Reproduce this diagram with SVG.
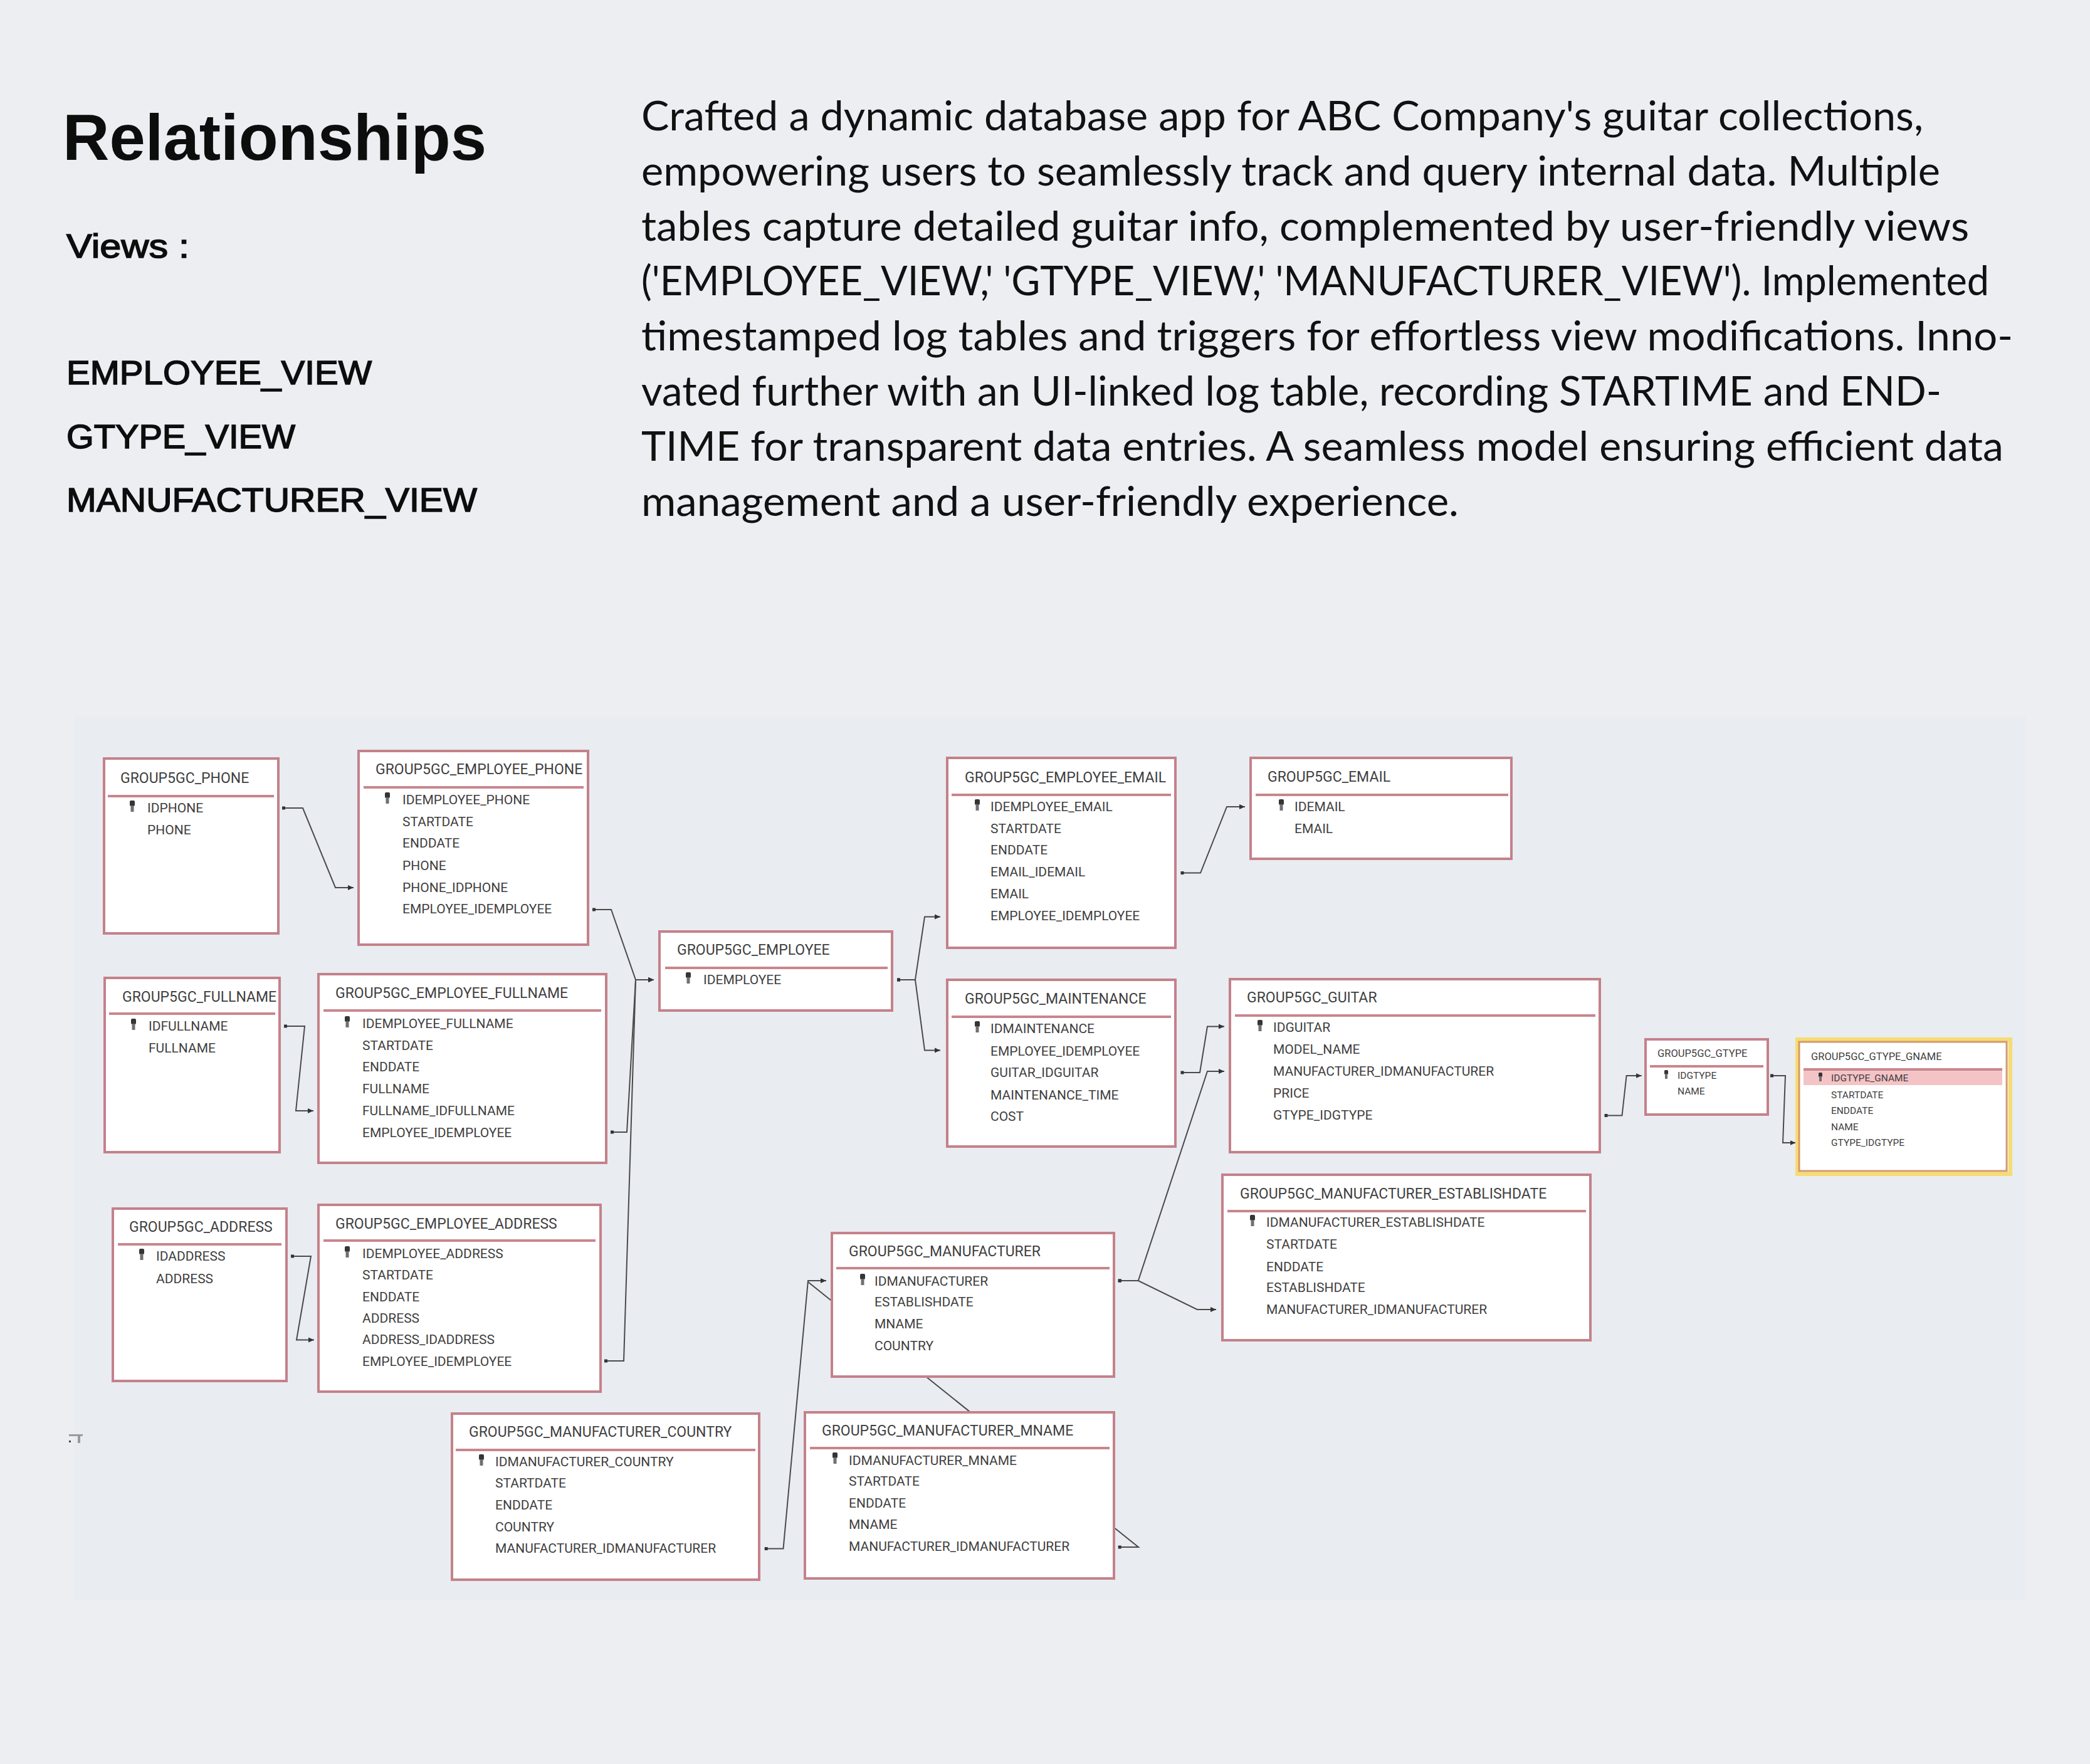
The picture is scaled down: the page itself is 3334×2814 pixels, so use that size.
<svg xmlns="http://www.w3.org/2000/svg" width="3334" height="2814" viewBox="0 0 3334 2814">
<defs>
<style>
.hd{font-family:"Liberation Sans",Arial,sans-serif;fill:#0d0d0d}
.vw{font-family:"Liberation Sans",Arial,sans-serif;font-size:54px;fill:#0d0d0d;stroke:#0d0d0d;stroke-width:1.6}
.para{font-family:Lato,"Open Sans",sans-serif;font-size:66px;fill:#111}
.box{fill:#fff;stroke:#c4818a;stroke-width:4}
.sep{stroke:#c8868d;stroke-width:4}
.tt{font-family:Roboto,"Liberation Sans",sans-serif;font-size:23px;fill:#3f3f3f}
.fd{font-family:Roboto,"Liberation Sans",sans-serif;font-size:21px;fill:#3f3f3f}
.tts{font-family:Roboto,"Liberation Sans",sans-serif;font-size:16.5px;fill:#3f3f3f}
.fds{font-family:Roboto,"Liberation Sans",sans-serif;font-size:15.5px;fill:#3f3f3f}
.conn{fill:none;stroke:#4a4a4a;stroke-width:2;stroke-linejoin:miter}
</style>
<marker id="arr" markerUnits="userSpaceOnUse" markerWidth="10" markerHeight="10" refX="9" refY="5" orient="auto">
<path d="M0,1 L9,5 L0,9 z" fill="#333"/>
</marker>
<marker id="dot" markerUnits="userSpaceOnUse" markerWidth="8" markerHeight="8" refX="4" refY="4" orient="auto">
<rect x="1" y="1.5" width="5" height="5" fill="#333"/>
</marker>
<g id="key">
<rect x="0" y="0" width="8" height="9" rx="2" fill="#353535"/>
<rect x="1.5" y="8" width="5" height="10" fill="#707070"/>
</g>
<g id="keys">
<rect x="0" y="0" width="6" height="7" rx="1.5" fill="#353535"/>
<rect x="1" y="6" width="4" height="8" fill="#707070"/>
</g>
</defs>

<rect x="0" y="0" width="3334" height="2814" fill="#eceef2"/>
<rect x="118" y="1143" width="3114" height="1410" fill="#e9ecf1"/>

<g id="header">
<text class="hd" x="100" y="255" font-size="103" font-weight="bold" textLength="676" lengthAdjust="spacingAndGlyphs">Relationships</text>
<text class="vw" x="106" y="411" textLength="196" lengthAdjust="spacingAndGlyphs">Views :</text>
<text class="vw" x="106" y="613" textLength="487" lengthAdjust="spacingAndGlyphs">EMPLOYEE_VIEW</text>
<text class="vw" x="106" y="715" textLength="365" lengthAdjust="spacingAndGlyphs">GTYPE_VIEW</text>
<text class="vw" x="106" y="816" textLength="655" lengthAdjust="spacingAndGlyphs">MANUFACTURER_VIEW</text>
</g>

<g id="description">
<text class="para" x="1023" y="208" textLength="2045" lengthAdjust="spacingAndGlyphs">Crafted a dynamic database app for ABC Company's guitar collections,</text>
<text class="para" x="1023" y="296" textLength="2072" lengthAdjust="spacingAndGlyphs">empowering users to seamlessly track and query internal data. Multiple</text>
<text class="para" x="1023" y="384" textLength="2118" lengthAdjust="spacingAndGlyphs">tables capture detailed guitar info, complemented by user-friendly views</text>
<text class="para" x="1023" y="471" textLength="2150" lengthAdjust="spacingAndGlyphs">('EMPLOYEE_VIEW,' 'GTYPE_VIEW,' 'MANUFACTURER_VIEW'). Implemented</text>
<text class="para" x="1023" y="559" textLength="2188" lengthAdjust="spacingAndGlyphs">timestamped log tables and triggers for effortless view modifications. Inno-</text>
<text class="para" x="1023" y="647" textLength="2074" lengthAdjust="spacingAndGlyphs">vated further with an UI-linked log table, recording STARTIME and END-</text>
<text class="para" x="1023" y="735" textLength="2173" lengthAdjust="spacingAndGlyphs">TIME for transparent data entries. A seamless model ensuring efficient data</text>
<text class="para" x="1023" y="823" textLength="1304" lengthAdjust="spacingAndGlyphs">management and a user-friendly experience.</text>
</g>

<g id="mark">
<rect x="110" y="2288" width="22" height="3" fill="#9a9a9a"/>
<rect x="124" y="2290" width="4" height="12" fill="#9a9a9a"/>
<rect x="110" y="2298" width="3" height="3" fill="#444"/>
</g>

<g id="connectors">
<polyline class="conn" marker-start="url(#dot)" marker-end="url(#arr)" points="453,1289 483,1289 535,1416 564,1416"/>
<polyline class="conn" marker-start="url(#dot)" marker-end="url(#arr)" points="456,1637 486,1637 472,1772 500,1772"/>
<polyline class="conn" marker-start="url(#dot)" marker-end="url(#arr)" points="467,2004 496,2004 473,2137.5 501,2137.5"/>
<polyline class="conn" marker-start="url(#dot)" marker-end="url(#arr)" points="948,1451 975,1451 1014,1563 1043,1563"/>
<polyline class="conn" marker-start="url(#dot)" marker-end="url(#arr)" points="977,1806 1000,1806 1014,1563 1043,1563"/>
<polyline class="conn" marker-start="url(#dot)" marker-end="url(#arr)" points="967,2171 995,2171 1014,1563 1043,1563"/>
<polyline class="conn" marker-start="url(#dot)" marker-end="url(#arr)" points="1434,1563 1460,1563 1475,1462.6 1500,1462.6"/>
<polyline class="conn" marker-start="url(#dot)" marker-end="url(#arr)" points="1434,1563 1460,1563 1475,1675.5 1500,1675.5"/>
<polyline class="conn" marker-start="url(#dot)" marker-end="url(#arr)" points="1886.5,1392.5 1915,1392.5 1957,1287 1986,1287"/>
<polyline class="conn" marker-start="url(#dot)" marker-end="url(#arr)" points="1886.5,1711 1914,1711 1926,1637.6 1953,1637.6"/>
<polyline class="conn" marker-start="url(#dot)" marker-end="url(#arr)" points="1786.7,2043 1815.8,2043 1926,1709 1953,1709"/>
<polyline class="conn" marker-start="url(#dot)" marker-end="url(#arr)" points="1786.7,2043 1815.8,2043 1909.7,2089 1940,2089"/>
<polyline class="conn" marker-start="url(#dot)" marker-end="url(#arr)" points="1222.7,2470.5 1249.5,2470.5 1289,2043 1318,2043"/>
<polyline class="conn" marker-start="url(#dot)" points="1786.7,2468 1816,2468 1289,2045"/>
<polyline class="conn" marker-start="url(#dot)" marker-end="url(#arr)" points="2562.5,1779.5 2587.5,1779.5 2594.6,1716 2618.7,1716"/>
<polyline class="conn" marker-start="url(#dot)" marker-end="url(#arr)" points="2827,1716 2848,1716 2844,1823 2864.5,1823"/>
</g>

<g id="t-phone">
<rect class="box" x="166" y="1210" width="278" height="279"/>
<text class="tt" x="192" y="1249">GROUP5GC_PHONE</text>
<line class="sep" x1="172" y1="1270" x2="437" y2="1270"/>
<use href="#key" x="207" y="1277"/>
<text class="fd" x="235" y="1296">IDPHONE</text>
<text class="fd" x="235" y="1331">PHONE</text>
</g>

<g id="t-employee-phone">
<rect class="box" x="572" y="1198" width="366" height="309"/>
<text class="tt" x="599" y="1235">GROUP5GC_EMPLOYEE_PHONE</text>
<line class="sep" x1="580" y1="1256" x2="931" y2="1256"/>
<use href="#key" x="614" y="1264"/>
<text class="fd" x="642" y="1283">IDEMPLOYEE_PHONE</text>
<text class="fd" x="642" y="1318">STARTDATE</text>
<text class="fd" x="642" y="1352">ENDDATE</text>
<text class="fd" x="642" y="1388">PHONE</text>
<text class="fd" x="642" y="1423">PHONE_IDPHONE</text>
<text class="fd" x="642" y="1457">EMPLOYEE_IDEMPLOYEE</text>
</g>

<g id="t-fullname">
<rect class="box" x="167" y="1560" width="279" height="278"/>
<text class="tt" x="195" y="1598">GROUP5GC_FULLNAME</text>
<line class="sep" x1="174" y1="1617" x2="439" y2="1617"/>
<use href="#key" x="209" y="1625"/>
<text class="fd" x="237" y="1644">IDFULLNAME</text>
<text class="fd" x="237" y="1679">FULLNAME</text>
</g>

<g id="t-employee-fullname">
<rect class="box" x="508" y="1554" width="459" height="301"/>
<text class="tt" x="535" y="1592">GROUP5GC_EMPLOYEE_FULLNAME</text>
<line class="sep" x1="516" y1="1612" x2="959" y2="1612"/>
<use href="#key" x="550" y="1621"/>
<text class="fd" x="578" y="1640">IDEMPLOYEE_FULLNAME</text>
<text class="fd" x="578" y="1675">STARTDATE</text>
<text class="fd" x="578" y="1709">ENDDATE</text>
<text class="fd" x="578" y="1744">FULLNAME</text>
<text class="fd" x="578" y="1779">FULLNAME_IDFULLNAME</text>
<text class="fd" x="578" y="1814">EMPLOYEE_IDEMPLOYEE</text>
</g>

<g id="t-address">
<rect class="box" x="180" y="1928" width="277" height="275"/>
<text class="tt" x="206" y="1965">GROUP5GC_ADDRESS</text>
<line class="sep" x1="188" y1="1985" x2="449" y2="1985"/>
<use href="#key" x="222" y="1992"/>
<text class="fd" x="249" y="2011">IDADDRESS</text>
<text class="fd" x="249" y="2047">ADDRESS</text>
</g>

<g id="t-employee-address">
<rect class="box" x="508" y="1922" width="450" height="298"/>
<text class="tt" x="535" y="1960">GROUP5GC_EMPLOYEE_ADDRESS</text>
<line class="sep" x1="516" y1="1979" x2="950" y2="1979"/>
<use href="#key" x="550" y="1988"/>
<text class="fd" x="578" y="2007">IDEMPLOYEE_ADDRESS</text>
<text class="fd" x="578" y="2041">STARTDATE</text>
<text class="fd" x="578" y="2076">ENDDATE</text>
<text class="fd" x="578" y="2110">ADDRESS</text>
<text class="fd" x="578" y="2144">ADDRESS_IDADDRESS</text>
<text class="fd" x="578" y="2179">EMPLOYEE_IDEMPLOYEE</text>
</g>

<g id="t-employee">
<rect class="box" x="1052" y="1486" width="371" height="126"/>
<text class="tt" x="1080" y="1523">GROUP5GC_EMPLOYEE</text>
<line class="sep" x1="1061" y1="1544" x2="1416" y2="1544"/>
<use href="#key" x="1094" y="1551"/>
<text class="fd" x="1122" y="1570">IDEMPLOYEE</text>
</g>

<g id="t-employee-email">
<rect class="box" x="1511" y="1209" width="364" height="303"/>
<text class="tt" x="1539" y="1248">GROUP5GC_EMPLOYEE_EMAIL</text>
<line class="sep" x1="1518" y1="1268" x2="1868" y2="1268"/>
<use href="#key" x="1555" y="1275"/>
<text class="fd" x="1580" y="1294">IDEMPLOYEE_EMAIL</text>
<text class="fd" x="1580" y="1329">STARTDATE</text>
<text class="fd" x="1580" y="1363">ENDDATE</text>
<text class="fd" x="1580" y="1398">EMAIL_IDEMAIL</text>
<text class="fd" x="1580" y="1433">EMAIL</text>
<text class="fd" x="1580" y="1468">EMPLOYEE_IDEMPLOYEE</text>
</g>

<g id="t-email">
<rect class="box" x="1995" y="1209" width="416" height="161"/>
<text class="tt" x="2022" y="1247">GROUP5GC_EMAIL</text>
<line class="sep" x1="2003" y1="1268" x2="2406" y2="1268"/>
<use href="#key" x="2040" y="1275"/>
<text class="fd" x="2065" y="1294">IDEMAIL</text>
<text class="fd" x="2065" y="1329">EMAIL</text>
</g>

<g id="t-maintenance">
<rect class="box" x="1511" y="1563" width="364" height="266"/>
<text class="tt" x="1539" y="1601">GROUP5GC_MAINTENANCE</text>
<line class="sep" x1="1518" y1="1622" x2="1868" y2="1622"/>
<use href="#key" x="1555" y="1629"/>
<text class="fd" x="1580" y="1648">IDMAINTENANCE</text>
<text class="fd" x="1580" y="1684">EMPLOYEE_IDEMPLOYEE</text>
<text class="fd" x="1580" y="1718">GUITAR_IDGUITAR</text>
<text class="fd" x="1580" y="1754">MAINTENANCE_TIME</text>
<text class="fd" x="1580" y="1788">COST</text>
</g>

<g id="t-guitar">
<rect class="box" x="1962" y="1562" width="590" height="276"/>
<text class="tt" x="1989" y="1599">GROUP5GC_GUITAR</text>
<line class="sep" x1="1970" y1="1620" x2="2545" y2="1620"/>
<use href="#key" x="2006" y="1627"/>
<text class="fd" x="2031" y="1646">IDGUITAR</text>
<text class="fd" x="2031" y="1681">MODEL_NAME</text>
<text class="fd" x="2031" y="1716">MANUFACTURER_IDMANUFACTURER</text>
<text class="fd" x="2031" y="1751">PRICE</text>
<text class="fd" x="2031" y="1786">GTYPE_IDGTYPE</text>
</g>

<g id="t-gtype">
<rect class="box" x="2625" y="1658" width="195" height="120"/>
<text class="tts" x="2644" y="1686">GROUP5GC_GTYPE</text>
<line class="sep" x1="2632" y1="1701" x2="2813" y2="1701" stroke="#d3a3a8"/>
<use href="#keys" x="2655" y="1707"/>
<text class="fds" x="2676" y="1721">IDGTYPE</text>
<text class="fds" x="2676" y="1746">NAME</text>
</g>

<g id="t-gtype-gname">
<rect x="2867" y="1658" width="340" height="215" fill="none" stroke="#f6dc73" stroke-width="6"/>
<rect x="2870" y="1662" width="331" height="206" fill="#fff" stroke="#d59a6a" stroke-width="3"/>
<text class="tts" x="2889" y="1691">GROUP5GC_GTYPE_GNAME</text>
<rect x="2877" y="1704" width="317" height="27" fill="#f4c3c6"/>
<line class="sep" x1="2877" y1="1706" x2="3194" y2="1706"/>
<use href="#keys" x="2901" y="1711"/>
<text class="fds" x="2921" y="1725">IDGTYPE_GNAME</text>
<text class="fds" x="2921" y="1752">STARTDATE</text>
<text class="fds" x="2921" y="1777">ENDDATE</text>
<text class="fds" x="2921" y="1803">NAME</text>
<text class="fds" x="2921" y="1828">GTYPE_IDGTYPE</text>
</g>

<g id="t-manufacturer-establishdate">
<rect class="box" x="1950" y="1874" width="587" height="264"/>
<text class="tt" x="1978" y="1912">GROUP5GC_MANUFACTURER_ESTABLISHDATE</text>
<line class="sep" x1="1958" y1="1932" x2="2530" y2="1932"/>
<use href="#key" x="1994" y="1938"/>
<text class="fd" x="2020" y="1957">IDMANUFACTURER_ESTABLISHDATE</text>
<text class="fd" x="2020" y="1992">STARTDATE</text>
<text class="fd" x="2020" y="2028">ENDDATE</text>
<text class="fd" x="2020" y="2061">ESTABLISHDATE</text>
<text class="fd" x="2020" y="2096">MANUFACTURER_IDMANUFACTURER</text>
</g>

<g id="t-manufacturer">
<rect class="box" x="1327" y="1967" width="450" height="229"/>
<text class="tt" x="1354" y="2004">GROUP5GC_MANUFACTURER</text>
<line class="sep" x1="1334" y1="2023" x2="1770" y2="2023"/>
<use href="#key" x="1372" y="2032"/>
<text class="fd" x="1395" y="2051">IDMANUFACTURER</text>
<text class="fd" x="1395" y="2084">ESTABLISHDATE</text>
<text class="fd" x="1395" y="2119">MNAME</text>
<text class="fd" x="1395" y="2154">COUNTRY</text>
</g>

<g id="t-manufacturer-country">
<rect class="box" x="721" y="2255" width="490" height="265"/>
<text class="tt" x="748" y="2292">GROUP5GC_MANUFACTURER_COUNTRY</text>
<line class="sep" x1="727" y1="2313" x2="1205" y2="2313"/>
<use href="#key" x="764" y="2320"/>
<text class="fd" x="790" y="2339">IDMANUFACTURER_COUNTRY</text>
<text class="fd" x="790" y="2373">STARTDATE</text>
<text class="fd" x="790" y="2408">ENDDATE</text>
<text class="fd" x="790" y="2443">COUNTRY</text>
<text class="fd" x="790" y="2477">MANUFACTURER_IDMANUFACTURER</text>
</g>

<g id="t-manufacturer-mname">
<rect class="box" x="1284" y="2253" width="493" height="265"/>
<text class="tt" x="1311" y="2290">GROUP5GC_MANUFACTURER_MNAME</text>
<line class="sep" x1="1292" y1="2310" x2="1770" y2="2310"/>
<use href="#key" x="1328" y="2317"/>
<text class="fd" x="1354" y="2337">IDMANUFACTURER_MNAME</text>
<text class="fd" x="1354" y="2370">STARTDATE</text>
<text class="fd" x="1354" y="2405">ENDDATE</text>
<text class="fd" x="1354" y="2439">MNAME</text>
<text class="fd" x="1354" y="2474">MANUFACTURER_IDMANUFACTURER</text>
</g>
</svg>
